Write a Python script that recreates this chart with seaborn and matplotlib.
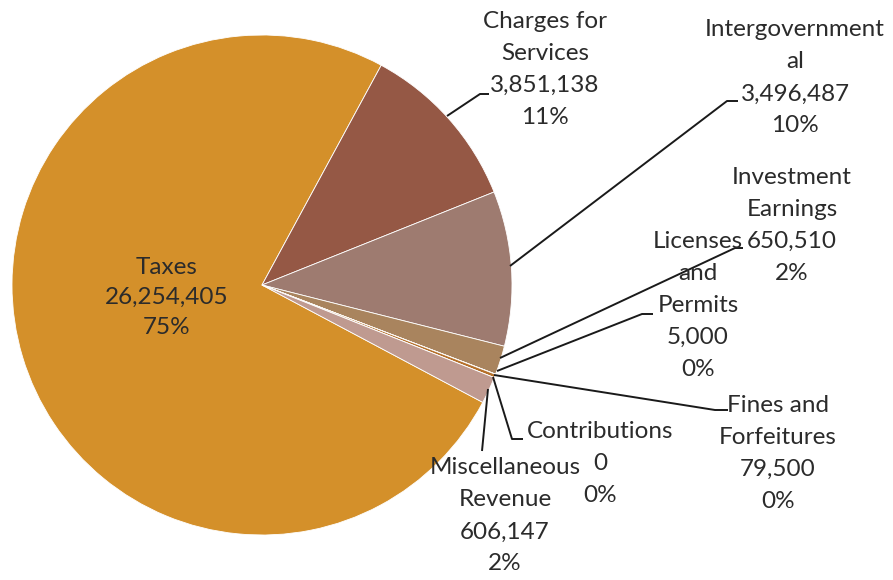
import matplotlib
matplotlib.use("Agg")
import matplotlib.pyplot as plt
import seaborn as sns

sns.set_theme(style="white")
plt.rcParams['font.family'] = ['Lato', 'DejaVu Sans']

# ---- data ----
categories = ["Taxes", "Charges for Services", "Intergovernmental",
              "Investment Earnings", "Licenses and Permits",
              "Fines and Forfeitures", "Contributions", "Miscellaneous Revenue"]
values = [26254405, 3851138, 3496487, 650510, 5000, 79500, 0, 606147]
label_names = [["Taxes"], ["Charges for", "Services"], ["Intergovernment", "al"],
               ["Investment", "Earnings"], ["Licenses", "and", "Permits"],
               ["Fines and", "Forfeitures"], ["Contributions"],
               ["Miscellaneous", "Revenue"]]
colors = ["#D4902A", "#955845", "#9E7B70", "#A9845E", "#C08040",
          "#B5702A", "#B07A5A", "#BF9A90"]

# ---- layout (pixel coordinates, y from top) ----
W, H = 893, 580
center_px = (262, 285)
radius_px = 250
# (x centre, y of first line, line step)
label_pos = [(167, 267, 30), (545, 21, 32), (795, 30, 32), (792, 177, 32),
             (698, 241, 32), (778, 405, 32), (600, 432, 32), (505, 468, 32)]
leaders = [None,
           [(447, 116), (480, 94), (489, 94)],
           [(510, 266), (727, 101), (738, 101)],
           [(500, 358), (735, 248), (743, 248)],
           [(497, 371), (642, 314), (653, 314)],
           [(494, 375), (715, 410), (728, 410)],
           [(493, 377), (512, 439), (523, 439)],
           [(488, 389), (482, 451)]]

fig = plt.figure(figsize=(W / 100, H / 100), dpi=100)
ax = fig.add_axes([0, 0, 1, 1])

def fy(y):
    return H - y

ax.pie(values, colors=colors, startangle=-28, counterclock=False,
       center=(center_px[0], fy(center_px[1])), radius=radius_px,
       wedgeprops=dict(linewidth=0.6, edgecolor="white"), frame=True)
ax.set_xlim(0, W)
ax.set_ylim(0, H)
ax.set_aspect("equal")
ax.axis("off")

total = sum(values)
txtcolor = "#2B2B2B"
for i, (name, v) in enumerate(zip(label_names, values)):
    pct = round(100 * v / total)
    lines = list(name) + [f"{v:,}", f"{pct}%"]
    x, y0, step = label_pos[i]
    for k, ln in enumerate(lines):
        ax.text(x, fy(y0 + k * step), ln, ha="center", va="center",
                fontsize=17.5, color=txtcolor)
    if leaders[i]:
        xs = [p[0] for p in leaders[i]]
        ys = [fy(p[1]) for p in leaders[i]]
        ax.plot(xs, ys, color="#1A1A1A", lw=1.4, solid_capstyle="butt")

fig.savefig("out.png", dpi=100)
